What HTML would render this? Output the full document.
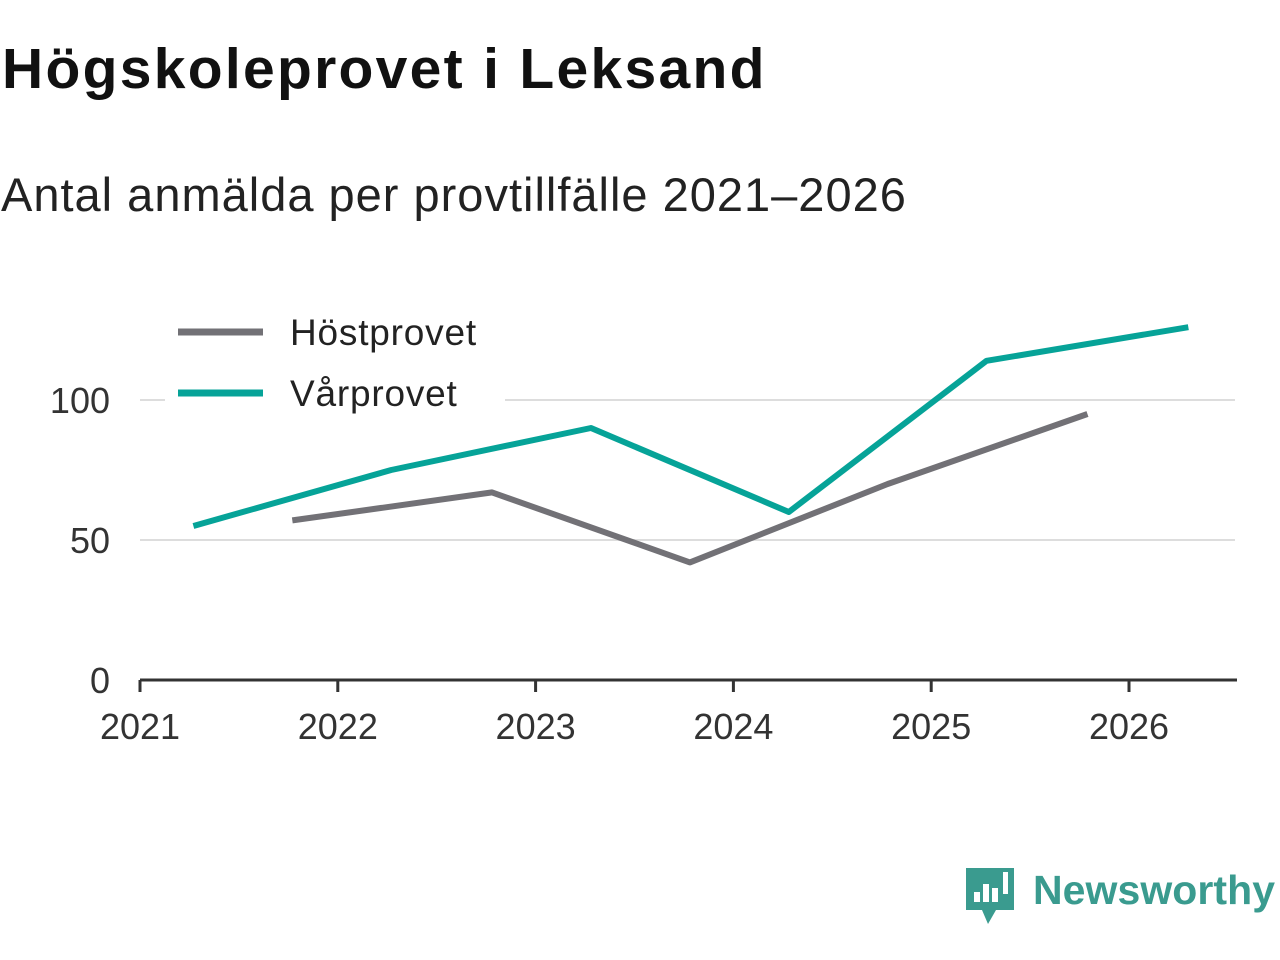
<!DOCTYPE html>
<html><head><meta charset="utf-8">
<style>
body{margin:0;width:1280px;height:960px;background:#fff;overflow:hidden;font-family:"Liberation Sans",sans-serif;}
#title{position:absolute;left:2px;top:36px;font-size:57px;font-weight:bold;color:#111;white-space:nowrap;letter-spacing:2.3px}
#sub{position:absolute;left:1px;top:167px;font-size:47px;color:#222;white-space:nowrap;letter-spacing:1px}
svg{position:absolute;left:0;top:0}
</style></head><body>
<div id="title">Högskoleprovet i Leksand</div>
<div id="sub">Antal anmälda per provtillfälle 2021–2026</div>
<svg id="chart" width="1280" height="960"></svg>
<script>
const yearTicks=[2021,2022,2023,2024,2025,2026];
const yTicks=[0,50,100];
const hostX=[2021.77,2022.78,2023.78,2024.78,2025.79];
const hostY=[57,67,42,70,95];
const varX=[2021.27,2022.27,2023.28,2024.28,2025.28,2026.3];
const varY=[55,75,90,60,114,126];
const NS="http://www.w3.org/2000/svg";
const svg=document.getElementById('chart');
const xs=v=>140+(v-2021)*197.8;
const ys=v=>680-v*2.8;
function mk(t,a,p){const e=document.createElementNS(NS,t);for(const k in a)e.setAttribute(k,a[k]);(p||svg).appendChild(e);return e;}
yTicks.forEach(v=>{
  if(v>0){const g=mk('line',{x1:140,x2:1235,y1:ys(v),y2:ys(v),stroke:'#dddddd','stroke-width':2});
  
  }
  const t=mk('text',{x:110,y:ys(v)+13,'text-anchor':'end','font-size':36,fill:'#333','font-family':'Liberation Sans, sans-serif'});
  t.textContent=v;
  
  
});
const ax=mk('line',{x1:140,x2:1237,y1:680,y2:680,stroke:'#333','stroke-width':3});


yearTicks.forEach(v=>{
  const tk=mk('line',{x1:xs(v),x2:xs(v),y1:680,y2:692,stroke:'#333','stroke-width':3});
  
  
  const t=mk('text',{x:xs(v),y:739,'text-anchor':'middle','font-size':36,fill:'#333','font-family':'Liberation Sans, sans-serif'});
  t.textContent=v;
  
  
});
const lb=mk('rect',{x:165,y:305,width:340,height:110,fill:'#fff'});


function series(X,Y,c,n){
  const p=mk('polyline',{points:X.map((x,i)=>xs(x)+','+ys(Y[i])).join(' '),fill:'none',stroke:c,'stroke-width':6,'stroke-linejoin':'round'});
  
  
}
series(hostX,hostY,'#727176','line-hostprovet');
series(varX,varY,'#06a398','line-varprovet');
[['Höstprovet','#727176',332],['Vårprovet','#06a398',393]].forEach(([n,c,y])=>{
  const l=mk('line',{x1:178,x2:263,y1:y,y2:y,stroke:c,'stroke-width':7});
  
  
  const t=mk('text',{x:290,y:y+13,'font-size':37,fill:'#222','font-family':'Liberation Sans, sans-serif','letter-spacing':'0.8'});
  t.textContent=n;
  
  
});
const g=mk('g',{});


mk('path',{d:'M966 868 h48 v42 h-18 l-8 14 l-6 -14 h-16 z',fill:'#3a9b8f'},g);
[[974,892,6,10],[983,884,6,18],[992,888,6,14]].forEach(r=>mk('rect',{x:r[0],y:r[1],width:r[2],height:r[3],fill:'#fff'},g));
mk('rect',{x:1003,y:872,width:5,height:22,fill:'#fff'},g);
const lt=mk('text',{x:1033,y:904,'font-size':41,'font-weight':'bold',fill:'#3a9b8f','font-family':'Liberation Sans, sans-serif','textLength':242},g);
lt.textContent='Newsworthy';
</script>
</body></html>
